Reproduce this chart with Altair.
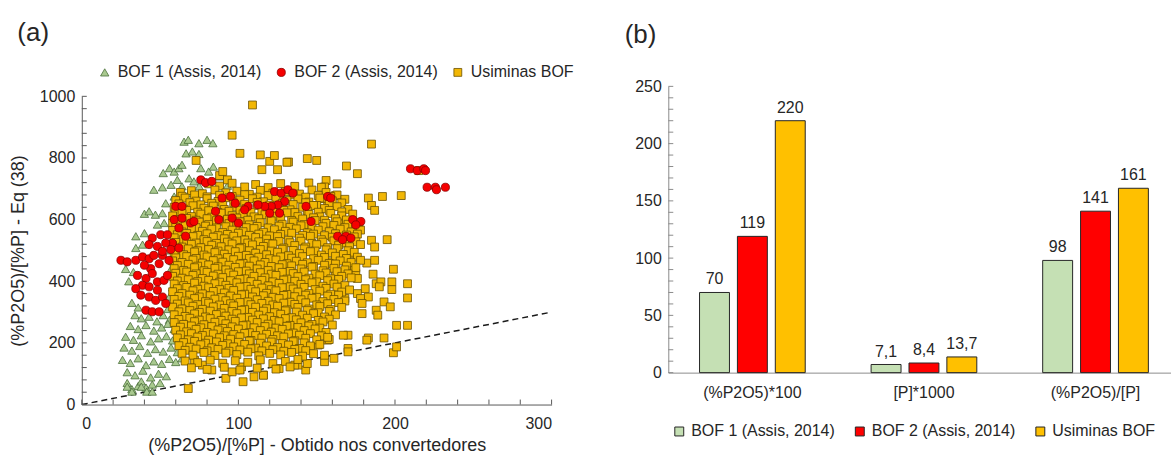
import altair as alt
import pandas as pd

FONT = "Liberation Sans"
TXT = "#262626"

# ---------------- Panel (a) data: points ----------------
series = ["BOF 1 (Assis, 2014)", "BOF 2 (Assis, 2014)", "Usiminas BOF"]

bof1_xy = [
    (65.3, 853), (68, 859), (74.8, 848), (80, 859), (83.7, 848), (66.6, 815), (70.6, 821), (74.8, 813),
    (52, 751), (56, 767), (59, 756), (62, 767), (64, 778), (76, 767), (84, 772), (81, 756), (87.5, 740),
    (93, 710), (46, 697), (51.5, 705), (57, 713), (61, 729), (64, 708), (68.5, 734), (71.6, 724), (75, 708),
    (53.6, 653), (59, 675), (64, 681), (68.5, 686), (72.6, 681), (40, 619), (43, 627), (47, 616),
    (51.5, 621), (52.6, 589), (48.3, 584), (34.5, 546), (40, 556), (34.5, 508), (38.8, 519),
    (34, 290), (38, 280), (43, 285), (48, 270), (52, 290), (56, 275), (31, 255), (36, 245), (41, 258),
    (46, 240), (51, 250), (55, 262), (59, 245), (28, 220), (33, 210), (38, 225), (44, 205), (49, 215),
    (54, 222), (58, 208), (62, 215), (27, 185), (32, 175), (37, 190), (42, 168), (47, 180), (52, 172),
    (57, 185), (61, 170), (65, 178), (26, 145), (31, 135), (36, 150), (41, 128), (46, 140), (51, 132),
    (56, 148), (60, 138), (64, 150), (29, 105), (34, 95), (39, 110), (44, 88), (49, 100), (54, 92),
    (36, 60), (32, 50), (41, 55), (45, 65), (29, 70), (38, 75), (50, 70), (30, 400), (33, 430), (28, 440),
    (57, 440), (58, 380), (56, 350), (32, 330), (36, 315), (55, 310), (29, 58), (32, 42), (38, 58),
    (41.5, 42), (45, 42), (58, 470), (60, 430), (57, 500),
]

bof2_xy = [
    (25, 468), (29, 463), (34.5, 468), (38.8, 479), (43, 473), (46, 484), (51.5, 484), (55.7, 468),
    (49.4, 457), (44, 441), (40, 452), (35.6, 419), (41, 409), (45, 425), (48.3, 398), (52.5, 403),
    (54.7, 419), (38.8, 387), (43, 382), (48.3, 371), (34.5, 376), (37.7, 355), (43, 349), (47.2, 338),
    (51.5, 349), (41, 306), (45, 301), (49.4, 301), (53.6, 328),
    (45, 540), (50.4, 551), (54.7, 551), (57.8, 524), (53.6, 524), (48.3, 513), (43, 519), (51.5, 497),
    (56.8, 503), (62, 508), (66.3, 546), (62, 573),
    (60, 643), (64, 643), (59, 600), (64, 605), (69.5, 589), (71.6, 594),
    (76, 729), (79, 720), (83, 724),
    (89.6, 670), (95, 675), (98, 653), (85.4, 627), (87.5, 600), (96, 605), (100, 589),
    (123.1, 691), (127.3, 686), (131.6, 697), (134.8, 686), (129.5, 659), (125.2, 648), (121, 643),
    (116.8, 643), (112.5, 648), (120, 621), (126.3, 621), (106.2, 643), (104, 632), (143.2, 643),
    (157, 675), (159, 670), (146.4, 594), (173, 600), (178.2, 594), (175, 583), (163.4, 546),
    (168.7, 546), (171.8, 540), (166.5, 535),
    (209.9, 765), (214.2, 759), (218.4, 765), (219.5, 759), (220.5, 705), (225.8, 705), (226.5, 697),
    (232.2, 705),
]

usi_xy = [
    # scattered outliers
    (109, 972), (96, 874), (73, 792), (101, 815), (114, 810), (120, 789), (115, 762), (123, 808),
    (132, 787), (144, 798), (150, 792), (131, 786), (125, 762), (169, 774), (176, 749), (185, 845),
    (192, 675), (204, 678), (183, 670), (185, 646), (187, 630), (195, 535), (185, 533), (187, 511),
    (199, 439), (208, 392), (208, 346), (198, 398), (198, 373), (193, 333), (197, 317), (201, 257),
    (208, 257), (199, 168), (201, 187), (193, 216), (183, 216), (182, 209), (188, 306), (189, 290),
    (183, 349), (181, 376), (188, 392), (191, 398), (190, 382), (182, 459), (187, 468), (186, 423),
    (175, 425), (176, 409), (176, 360), (178, 344), (179, 328), (179, 295), (170, 225), (170, 182),
    (170, 171), (167, 225), (155, 139), (155, 160), (143, 112), (144, 133), (138, 128), (136, 128),
    (116, 96), (110, 90), (157, 209), (158, 211), (161, 150), (151, 193), (168, 344), (162, 430),
    (160, 463), (170, 457), (171, 489), (174, 446), (169, 533), (165, 587), (157, 646), (155, 668),
    (156, 727), (163, 716), (162, 678), (155, 706), (68, 52), (92, 85), (103, 74), (116, 95), (72, 144),
    (77, 128), (83, 112), (96, 106), (102, 122), (126, 117), (88, 743), (90, 756), (93, 729), (215.2, 759),
    # dense cloud
    (81, 716), (88, 709), (96, 718), (104, 706), (111, 714), (119, 704), (127, 717), (136, 708), (145, 719), (153, 705),
    (63, 688), (70, 694), (77, 684), (85, 696), (92, 687), (99, 692), (107, 682), (114, 695), (122, 686), (130, 691),
    (139, 683), (147, 696), (156, 688), (163, 680),
    (64, 676), (72, 680), (80, 674), (88, 679), (96, 675), (104, 681), (112, 673), (119, 678), (127, 674), (135, 680),
    (143, 673), (151, 678), (159, 675),
    (60, 662), (66, 670), (73, 660), (80, 668), (87, 659), (94, 671), (101, 663), (109, 668), (116, 658), (124, 672),
    (131, 662), (138, 667), (145, 657), (152, 670), (160, 661), (168, 666),
    (62, 651), (69, 655), (76, 648), (83, 653), (90, 646), (97, 654), (104, 650), (112, 656), (120, 647), (128, 653),
    (135, 649), (143, 655), (150, 646), (158, 651), (166, 654),
    (59, 640), (65, 634), (71, 645), (78, 637), (84, 644), (91, 633), (98, 641), (105, 636), (112, 646), (119, 635),
    (126, 643), (133, 632), (141, 640), (148, 646), (155, 636), (163, 642), (170, 633),
    (60, 626), (67, 630), (74, 624), (81, 629), (87, 623), (94, 627), (101, 631), (108, 624), (115, 628), (122, 625),
    (129, 630), (136, 623), (144, 628), (151, 624), (158, 630), (166, 625),
    (58, 612), (64, 620), (70, 610), (76, 618), (83, 608), (89, 621), (96, 613), (103, 619), (110, 609), (117, 616),
    (124, 611), (131, 622), (138, 610), (145, 617), (152, 609), (159, 620), (166, 612), (173, 618),
    (61, 600), (67, 604), (73, 598), (80, 603), (86, 597), (93, 601), (99, 605), (106, 598), (113, 603), (120, 599),
    (127, 604), (134, 597), (141, 602), (148, 606), (155, 598), (162, 603), (169, 599),
    (58, 588), (63, 595), (69, 586), (75, 592), (81, 584), (88, 595), (94, 587), (101, 593), (107, 583), (114, 590),
    (121, 596), (128, 585), (135, 592), (142, 584), (149, 597), (156, 588), (163, 593), (170, 585), (177, 591),
    (60, 576), (66, 580), (73, 574), (79, 579), (86, 573), (92, 577), (99, 581), (105, 574), (112, 578), (119, 573),
    (126, 579), (133, 575), (140, 580), (147, 573), (154, 577), (161, 581), (168, 574), (175, 578),
    (58, 565), (64, 560), (70, 570), (77, 562), (83, 569), (90, 558), (96, 566), (103, 561), (110, 571), (116, 559),
    (123, 567), (130, 562), (137, 570), (144, 557), (151, 566), (158, 561), (165, 569), (172, 560), (178, 566),
    (61, 551), (67, 555), (74, 549), (80, 554), (87, 548), (93, 552), (100, 556), (107, 549), (113, 553), (120, 547),
    (127, 552), (134, 556), (141, 549), (148, 553), (155, 548), (162, 554), (169, 550), (176, 553),
    (59, 541), (65, 536), (71, 545), (78, 535), (84, 543), (91, 538), (97, 546), (104, 534), (111, 542), (118, 537),
    (125, 545), (132, 533), (139, 540), (146, 546), (153, 535), (160, 543), (167, 537), (174, 544),
    (60, 526), (67, 530), (73, 524), (80, 529), (86, 523), (93, 527), (99, 531), (106, 524), (113, 528), (119, 523),
    (126, 529), (133, 525), (140, 530), (147, 523), (154, 527), (161, 531), (168, 524), (175, 528),
    (58, 516), (64, 511), (70, 520), (76, 509), (83, 517), (89, 512), (96, 521), (102, 510), (109, 518), (116, 513),
    (122, 521), (129, 508), (136, 516), (143, 511), (150, 519), (157, 509), (164, 517), (171, 512), (178, 519),
    (61, 501), (68, 505), (74, 499), (81, 503), (87, 498), (94, 502), (101, 506), (107, 499), (114, 503), (121, 498),
    (128, 504), (135, 500), (142, 505), (149, 498), (156, 502), (163, 506), (170, 499),
    (59, 492), (65, 486), (72, 495), (78, 485), (85, 493), (91, 488), (98, 496), (105, 484), (111, 491), (118, 486),
    (125, 494), (132, 483), (139, 490), (146, 496), (153, 485), (160, 492), (167, 487), (174, 494),
    (60, 476), (67, 480), (73, 474), (80, 479), (87, 473), (93, 477), (100, 481), (107, 474), (113, 478), (120, 473),
    (127, 479), (134, 475), (141, 480), (148, 473), (155, 477), (162, 481), (169, 474), (176, 478),
    (58, 466), (64, 461), (71, 469), (77, 459), (84, 467), (90, 462), (97, 470), (103, 458), (110, 466), (117, 461),
    (124, 469), (131, 457), (137, 465), (144, 460), (151, 468), (158, 458), (165, 466), (172, 461), (178, 468),
    (61, 451), (68, 455), (74, 449), (81, 453), (87, 447), (94, 452), (101, 456), (107, 449), (114, 453), (121, 448),
    (128, 454), (134, 450), (141, 455), (148, 448), (155, 452), (162, 456), (169, 449),
    (59, 441), (65, 435), (72, 444), (78, 434), (85, 442), (92, 437), (98, 445), (105, 433), (112, 440), (119, 435),
    (126, 444), (133, 432), (140, 440), (147, 446), (154, 434), (161, 442), (168, 437), (175, 444),
    (60, 426), (67, 430), (73, 424), (80, 429), (87, 423), (94, 427), (100, 431), (107, 424), (114, 428), (121, 423),
    (128, 429), (135, 425), (142, 430), (149, 423), (156, 427), (163, 431), (170, 424),
    (58, 416), (64, 410), (71, 419), (77, 409), (84, 417), (90, 412), (97, 420), (104, 408), (110, 416), (117, 411),
    (124, 419), (131, 407), (138, 415), (145, 410), (152, 418), (159, 408), (166, 416), (172, 411),
    (61, 401), (68, 405), (74, 399), (81, 403), (88, 397), (95, 402), (101, 406), (108, 399), (115, 403), (122, 398),
    (129, 404), (136, 400), (143, 405), (150, 398), (157, 402), (164, 406),
    (59, 391), (65, 386), (72, 394), (78, 384), (85, 392), (92, 387), (99, 395), (105, 383), (112, 390), (119, 385),
    (126, 393), (133, 382), (140, 390), (147, 395), (154, 384), (161, 391), (168, 386),
    (61, 376), (67, 380), (74, 374), (81, 379), (88, 373), (94, 377), (101, 381), (108, 374), (115, 378), (121, 373),
    (128, 379), (135, 375), (142, 380), (149, 373), (156, 377), (163, 381),
    (58, 366), (64, 360), (71, 369), (77, 359), (84, 367), (91, 362), (97, 370), (104, 358), (111, 366), (118, 361),
    (124, 369), (131, 357), (138, 365), (145, 360), (152, 368), (159, 358), (166, 365), (171, 372),
    (62, 351), (69, 355), (75, 349), (82, 353), (89, 347), (95, 352), (102, 356), (109, 349), (116, 353), (122, 348),
    (129, 354), (136, 350), (143, 355), (150, 348), (157, 352), (164, 355),
    (59, 341), (66, 336), (72, 344), (79, 334), (85, 342), (92, 337), (99, 345), (106, 333), (112, 340), (119, 335),
    (126, 344), (133, 332), (140, 340), (147, 345), (154, 334), (161, 341), (168, 336),
    (61, 326), (68, 330), (74, 324), (81, 329), (88, 323), (95, 327), (101, 331), (108, 324), (115, 328), (122, 323),
    (129, 329), (136, 325), (143, 330), (150, 323), (157, 327), (164, 331),
    (58, 316), (64, 310), (71, 319), (77, 309), (84, 317), (91, 312), (97, 320), (104, 308), (111, 316), (118, 311),
    (125, 319), (131, 307), (138, 315), (145, 310), (152, 318), (159, 308), (166, 315),
    (62, 301), (69, 305), (75, 299), (82, 303), (89, 297), (96, 302), (102, 306), (109, 299), (116, 303), (123, 298),
    (130, 304), (137, 300), (144, 305), (151, 298), (158, 302),
    (59, 291), (66, 286), (72, 294), (79, 284), (86, 292), (92, 287), (99, 295), (106, 283), (113, 290), (120, 285),
    (127, 293), (134, 282), (141, 290), (148, 295), (155, 284), (162, 291),
    (62, 276), (69, 280), (75, 274), (82, 279), (89, 273), (96, 277), (102, 281), (109, 274), (116, 278), (123, 273),
    (130, 279), (137, 275), (144, 280), (151, 273), (158, 277),
    (59, 266), (65, 260), (72, 269), (78, 259), (85, 267), (92, 262), (98, 270), (105, 258), (112, 266), (119, 261),
    (126, 269), (133, 257), (140, 265), (147, 260), (154, 268), (160, 258),
    (63, 251), (70, 255), (76, 249), (83, 253), (90, 247), (96, 252), (103, 256), (110, 249), (117, 253), (124, 248),
    (131, 254), (138, 250), (145, 255), (152, 248),
    (60, 241), (67, 236), (73, 244), (80, 234), (87, 242), (93, 237), (100, 245), (107, 233), (114, 240), (121, 235),
    (128, 244), (135, 232), (142, 240), (149, 245), (156, 234),
    (63, 226), (70, 230), (77, 224), (84, 229), (91, 223), (97, 227), (104, 231), (111, 224), (118, 228), (125, 223),
    (132, 229), (139, 225), (146, 230), (153, 223),
    (61, 216), (68, 210), (74, 219), (81, 209), (88, 217), (95, 212), (101, 220), (108, 208), (115, 216), (122, 211),
    (129, 219), (136, 207), (143, 215), (150, 210), (157, 218),
    (65, 201), (72, 205), (79, 199), (86, 203), (93, 197), (100, 202), (107, 206), (114, 199), (121, 203), (128, 198),
    (135, 204), (142, 200),
    (62, 191), (69, 186), (76, 194), (83, 184), (90, 192), (97, 187), (104, 195), (111, 183), (118, 190), (125, 185),
    (132, 193), (139, 182), (146, 190), (152, 195),
    (66, 176), (73, 180), (80, 174), (87, 179), (94, 173), (101, 177), (108, 181), (115, 174), (122, 178), (129, 173),
    (136, 179), (143, 175),
    (64, 166), (71, 160), (78, 169), (85, 159), (92, 167), (99, 162), (106, 170), (113, 158), (120, 166), (127, 161),
    (134, 169), (141, 157), (148, 165),
    (66, 141), (74, 136), (82, 144), (90, 134), (98, 142), (106, 137), (114, 145), (122, 133), (130, 140), (138, 146),
    (70, 119), (80, 114), (91, 121), (101, 112), (112, 118), (124, 115), (133, 122),
]

ref_x = [0, 300]
ref_y = [0, 300]
ytick_a = list(range(0, 1001, 40))
xtick_a = list(range(0, 301, 20))
ylab_a = [0, 200, 400, 600, 800, 1000]
xlab_a = [0, 100, 200, 300]

shapes_a = ["triangle-up", "circle", "square"]
fills_a = ["#a9c98f", "#f50000", "#f2b705"]
strokes_a = ["#4a6e3a", "#8a0000", "#6b5000"]
sizes_a = [70, 62, 54]

# ---------------- Panel (b) data ----------------
cats = ["(%P2O5)*100", "[P]*1000", "(%P2O5)/[P]"]
bof1_b = [70, 7.1, 98]
bof2_b = [119, 8.4, 141]
usi_b = [220, 13.7, 161]
fills_b = ["#c5e0b4", "#ff0000", "#ffc000"]
ytick_b = list(range(0, 251, 10))
ylab_b = [0, 50, 100, 150, 200, 250]

# ---------------- build tables ----------------
rows = []
for name, pts in [(series[0], bof1_xy), (series[2], usi_xy), (series[1], bof2_xy)]:
    for x, y in pts:
        rows.append({"x": x, "y": y, "serie": name})
dfa = pd.DataFrame(rows)
dref = pd.DataFrame({"x": ref_x, "y": ref_y})

rows_b = []
for name, vals in zip(series, [bof1_b, bof2_b, usi_b]):
    for c, v in zip(cats, vals):
        rows_b.append({"cat": c, "serie_b": name, "val": v, "lab": f"{v:g}".replace(".", ",")})
dfb = pd.DataFrame(rows_b)

W_A, H_A = 471, 309
W_B, H_B = 504, 277
B_TOP = -10  # panel (b) plot starts a little higher than panel (a)

leg_a = alt.Legend(title=None, orient="none", legendX=15, legendY=-32, direction="horizontal",
                   labelFontSize=16, labelFont=FONT, labelColor=TXT, labelOffset=5,
                   columnPadding=11, padding=0, symbolStrokeWidth=0.8)

xs_a = alt.Scale(domain=[0, 300], nice=False)
ys_a = alt.Scale(domain=[0, 1000], nice=False)
xax_a = alt.Axis(values=xlab_a, ticks=False, grid=False, format="d",
                 title="(%P2O5)/[%P] - Obtido nos convertedores", labelPadding=11, titlePadding=5)
yax_a = alt.Axis(values=ylab_a, ticks=False, grid=False, format="d",
                 title="(%P2O5)/[%P] - Eq (38)", labelPadding=7, titlePadding=12)

scatter = alt.Chart(dfa).mark_point(filled=True, opacity=1, strokeWidth=0.8).encode(
    x=alt.X("x:Q", scale=xs_a, axis=xax_a),
    y=alt.Y("y:Q", scale=ys_a, axis=yax_a),
    shape=alt.Shape("serie:N", scale=alt.Scale(domain=series, range=shapes_a), legend=leg_a),
    fill=alt.Fill("serie:N", scale=alt.Scale(domain=series, range=fills_a), legend=leg_a),
    stroke=alt.Stroke("serie:N", scale=alt.Scale(domain=series, range=strokes_a), legend=leg_a),
    size=alt.Size("serie:N", scale=alt.Scale(domain=series, range=sizes_a), legend=leg_a),
)

ref_line = alt.Chart(dref).mark_line(color="#1a1a1a", strokeDash=[6, 4], strokeWidth=1.5).encode(
    x=alt.X("x:Q", scale=xs_a, axis=xax_a),
    y=alt.Y("y:Q", scale=ys_a, axis=yax_a),
)

ytk_a = alt.Chart(pd.DataFrame({"v": ytick_a})).mark_rule(color="#595959", strokeWidth=1).encode(
    y=alt.Y("v:Q", scale=ys_a, axis=yax_a), x=alt.value(0), x2=alt.value(5))
xtk_a = alt.Chart(pd.DataFrame({"v": xtick_a})).mark_rule(color="#595959", strokeWidth=1).encode(
    x=alt.X("v:Q", scale=xs_a, axis=xax_a), y=alt.value(H_A), y2=alt.value(H_A - 5))

panel_a = alt.layer(ref_line, scatter, ytk_a, xtk_a).properties(
    width=W_A, height=H_A,
    title=alt.TitleParams("(a)", anchor="start", frame="bounds", fontSize=26, font=FONT,
                          fontWeight="normal", color=TXT, dx=8, offset=18),
)

leg_b = alt.Legend(title=None, orient="none", legendX=3, legendY=H_B + 51, direction="horizontal",
                   labelFontSize=16, labelFont=FONT, labelColor=TXT, labelOffset=4,
                   columnPadding=16, padding=0, symbolType="square", symbolSize=80,
                   symbolStrokeColor=TXT, symbolStrokeWidth=1)

ys_b = alt.Scale(domain=[0, 250], nice=False, range=[H_B, B_TOP])
yax_b = alt.Axis(values=ylab_b, ticks=False, grid=False, title=None, domainColor="#8c8c8c",
                 labelPadding=7)

base_b = alt.Chart(dfb).encode(
    x=alt.X("cat:N", sort=cats, scale=alt.Scale(paddingInner=0.384, paddingOuter=0.157, align=0.58),
            axis=alt.Axis(title=None, labelAngle=0, ticks=False, domainColor="#8c8c8c", labelPadding=12)),
    xOffset=alt.XOffset("serie_b:N", sort=series, scale=alt.Scale(paddingInner=0.21, paddingOuter=0)),
    y=alt.Y("val:Q", scale=ys_b, axis=yax_b),
)
bars = base_b.mark_bar(stroke=TXT, strokeWidth=1).encode(
    fill=alt.Fill("serie_b:N", scale=alt.Scale(domain=series, range=fills_b), legend=leg_b))
texts = base_b.mark_text(baseline="bottom", dy=-5, fontSize=16, font=FONT, color=TXT).encode(
    text="lab:N")
ytk_b = alt.Chart(pd.DataFrame({"v": ytick_b})).mark_rule(color="#8c8c8c", strokeWidth=1).encode(
    y=alt.Y("v:Q", scale=ys_b, axis=yax_b),
    x=alt.value(0), x2=alt.value(5))

panel_b = alt.layer(bars, texts, ytk_b).properties(
    width=W_B, height=H_B,
    title=alt.TitleParams("(b)", anchor="start", frame="bounds", fontSize=26, font=FONT,
                          fontWeight="normal", color=TXT, dx=-10, offset=30),
)

chart = alt.hconcat(panel_a, panel_b, spacing=50).resolve_scale(
    fill="independent", shape="independent", stroke="independent", size="independent"
).resolve_legend(
    fill="independent", shape="independent", stroke="independent", size="independent"
).configure(
    padding={"left": 9, "top": 20, "right": 0, "bottom": 0}
).configure_view(stroke=None).configure_axis(
    labelFont=FONT, labelFontSize=16, labelColor=TXT, titleFont=FONT, titleFontSize=18,
    titleFontWeight="normal", titleColor=TXT, domainColor="#595959", domainWidth=1,
)

chart.save("out.html", embed_options={"renderer": "svg", "actions": False})
